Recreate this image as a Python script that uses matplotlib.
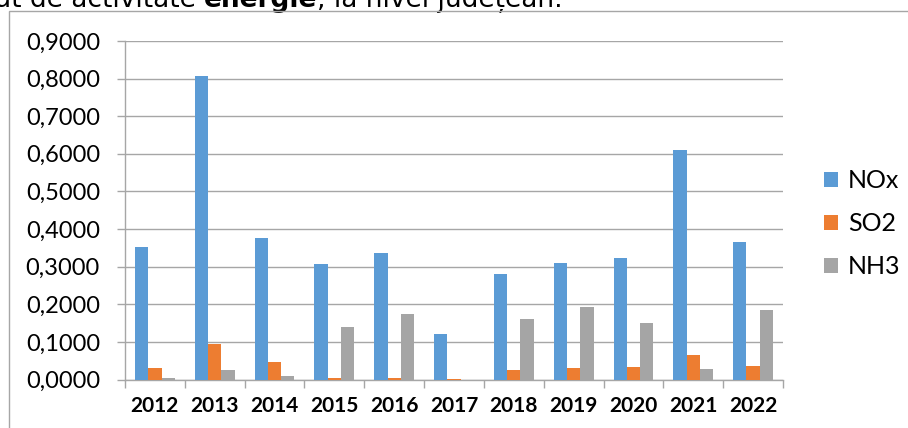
import numpy as np
import matplotlib
matplotlib.use('Agg')
import matplotlib.pyplot as plt
from matplotlib.ticker import FuncFormatter, FixedLocator
from matplotlib.patches import Rectangle

years = ['2012', '2013', '2014', '2015', '2016', '2017', '2018', '2019', '2020', '2021', '2022']
nox = [0.352, 0.806, 0.376, 0.308, 0.337, 0.122, 0.280, 0.310, 0.324, 0.611, 0.365]
so2 = [0.030, 0.094, 0.046, 0.004, 0.004, 0.001, 0.025, 0.030, 0.033, 0.064, 0.036]
nh3 = [0.005, 0.024, 0.009, 0.139, 0.173, 0.0, 0.160, 0.193, 0.150, 0.027, 0.184]
series_names = ['NOx', 'SO2', 'NH3']
colors = ['#5B9BD5', '#ED7D31', '#A5A5A5']

plt.rcParams['font.family'] = ['Lato', 'DejaVu Sans']

fig = plt.figure(figsize=(9.08, 4.28), dpi=100)
ax = fig.add_axes([125 / 908, 1 - 379.5 / 428, 658 / 908, 338.5 / 428])

# cropped page text above the chart (pieces chained one after another)
hdr = dict(family='DejaVu Sans', fontsize=19, va='bottom', ha='left')
t0 = fig.text(-0.006, 1 - 13 / 428, 'at de activitate ', **hdr)
t1 = ax.annotate('energie', xy=(1, 0), xycoords=t0, fontweight='bold',
                 annotation_clip=False, **hdr)
t2 = ax.annotate(', la nivel județean.', xy=(1, 0), xycoords=t1,
                 annotation_clip=False, **hdr)

# chart frame
fig.patches.append(Rectangle((9 / 908, -0.1), 1.2, 1 - 11 / 428 + 0.1, transform=fig.transFigure,
                             fill=False, edgecolor='#A6A6A6', linewidth=1.0, zorder=0))

x = np.arange(len(years))
w = 0.222
handles = []
for i, (vals, name) in enumerate(zip([nox, so2, nh3], series_names)):
    b = ax.bar(x + (i - 1) * w, vals, width=w, color=colors[i], label=name, zorder=3)
    handles.append(b)

ax.set_xlim(-0.5, len(years) - 0.5)
ax.set_ylim(0, 0.9)
ax.set_yticks(np.arange(0, 0.91, 0.1))
ax.yaxis.set_major_formatter(FuncFormatter(lambda v, p: ('%.4f' % v).replace('.', ',')))
ax.grid(axis='y', color='#A6A6A6', linewidth=1.0, zorder=0)

ax.xaxis.set_major_locator(FixedLocator(np.arange(-0.5, len(years), 1.0)))
ax.xaxis.set_minor_locator(FixedLocator(x))
ax.set_xticklabels([], minor=False)
ax.set_xticklabels(years, minor=True, fontweight='bold', fontsize=15)
ax.tick_params(axis='x', which='major', length=5.5, color='#A6A6A6', width=1.0)
ax.tick_params(axis='x', which='minor', length=0, pad=12)
ax.tick_params(axis='y', labelsize=17, length=6, color='#A6A6A6', width=1.0, pad=12)

for s in ['top', 'right']:
    ax.spines[s].set_visible(False)
for s in ['left', 'bottom']:
    ax.spines[s].set_color('#A6A6A6')
    ax.spines[s].set_linewidth(1.0)

fig.legend(handles=handles, labels=series_names, loc='center left',
           bbox_to_anchor=(824 / 908, 1 - 223.5 / 428), frameon=False, fontsize=18,
           handlelength=0.55, handleheight=0.55, handletextpad=0.4, labelspacing=0.8,
           borderpad=0, borderaxespad=0)

fig.savefig('out.png', dpi=100)
